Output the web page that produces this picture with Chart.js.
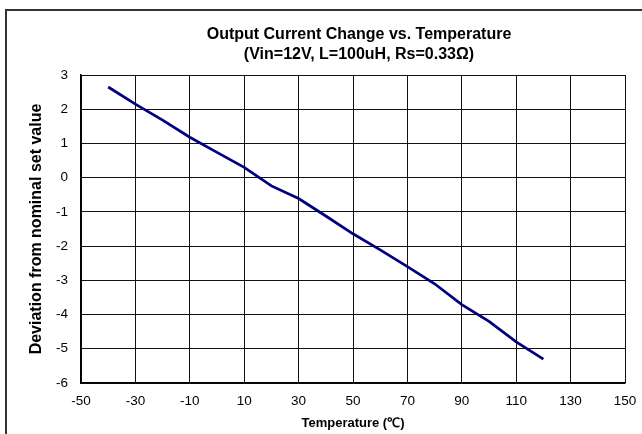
<!DOCTYPE html>
<html>
<head>
<meta charset="utf-8">
<script src="https://cdn.jsdelivr.net/npm/chart.js@4/dist/chart.umd.min.js"></script>
<style>
  html, body { margin: 0; padding: 0; background: #fff; }
  #wrap { width: 642px; height: 434px; position: relative; }
</style>
</head>
<body>
<div id="wrap"><canvas id="chart" width="642" height="434"></canvas></div>
<script>
// Measured deviation of output current vs. ambient temperature
const temperatures = [-40, -30, -20, -10, 0, 10, 20, 30, 40, 50, 60, 70, 80, 90, 100, 110, 120];
const deviation = [2.65, 2.15, 1.68, 1.18, 0.74, 0.30, -0.24, -0.61, -1.12, -1.64, -2.11, -2.60, -3.10, -3.71, -4.20, -4.80, -5.30];

const titleLines = ['Output Current Change vs. Temperature', '(Vin=12V, L=100uH, Rs=0.33\u03A9)'];
const xTitle = 'Temperature (\u2103)';
const yTitle = 'Deviation from nominal set value';

const FONT = "'Liberation Sans', Arial, sans-serif";

// White page with a frame around the chart object
const framePlugin = {
  id: 'frame',
  beforeDraw(chart) {
    const ctx = chart.ctx;
    ctx.save();
    ctx.fillStyle = '#fff';
    ctx.fillRect(0, 0, chart.width, chart.height);
    ctx.strokeStyle = '#333';
    ctx.lineWidth = 2;
    ctx.strokeRect(6, 10, chart.width + 20, chart.height + 20);
    ctx.restore();
  }
};

// Two-line heading, centred a little right of the plot centre
const headingPlugin = {
  id: 'heading',
  afterDraw(chart) {
    const ctx = chart.ctx;
    ctx.save();
    ctx.fillStyle = '#000';
    ctx.font = 'bold 16px ' + FONT;
    ctx.textAlign = 'center';
    ctx.textBaseline = 'middle';
    const cx = 359;
    titleLines.forEach((line, i) => ctx.fillText(line, cx, 35 + i * 20));
    ctx.restore();
  }
};

new Chart(document.getElementById('chart'), {
  type: 'line',
  data: {
    datasets: [{
      data: temperatures.map((t, i) => ({ x: t, y: deviation[i] })),
      borderColor: '#000080',
      borderWidth: 2.75,
      pointRadius: 0,
      tension: 0,
      fill: false
    }]
  },
  options: {
    responsive: false,
    animation: false,
    devicePixelRatio: 1,
    layout: { padding: { left: 0, right: 17, top: 75, bottom: 0 } },
    plugins: {
      legend: { display: false },
      tooltip: { enabled: false },
      title: { display: false }
    },
    scales: {
      x: {
        type: 'linear',
        min: -50,
        max: 150,
        ticks: {
          stepSize: 20,
          color: '#000',
          padding: 10,
          maxRotation: 0,
          font: { family: FONT, size: 13.5 }
        },
        grid: { color: '#111', lineWidth: 1, drawTicks: false },
        border: { display: true, color: '#000', width: 1.5 },
        title: {
          display: true,
          text: xTitle,
          color: '#000',
          font: { family: FONT, size: 13, weight: 'bold', lineHeight: 1.2 },
          padding: { top: 0, bottom: 3 }
        },
        afterFit(scale) {
          scale.height = 51;
          // end labels may overhang into the side margins
          scale.paddingLeft = 0;
          scale.paddingRight = 0;
        }
      },
      y: {
        type: 'linear',
        min: -6,
        max: 3,
        ticks: {
          stepSize: 1,
          color: '#000',
          padding: 13,
          font: { family: FONT, size: 13.5 }
        },
        grid: { color: '#111', lineWidth: 1, drawTicks: false },
        border: { display: true, color: '#000', width: 1.5 },
        title: {
          display: true,
          text: yTitle,
          color: '#000',
          font: { family: FONT, size: 16, weight: 'bold', lineHeight: 1.2 },
          padding: { top: 27, bottom: 0 }
        },
        afterFit(scale) {
          scale.width = 81;
          scale.paddingTop = 0;
          scale.paddingBottom = 0;
        }
      }
    }
  },
  plugins: [framePlugin, headingPlugin]
});
</script>
</body>
</html>
